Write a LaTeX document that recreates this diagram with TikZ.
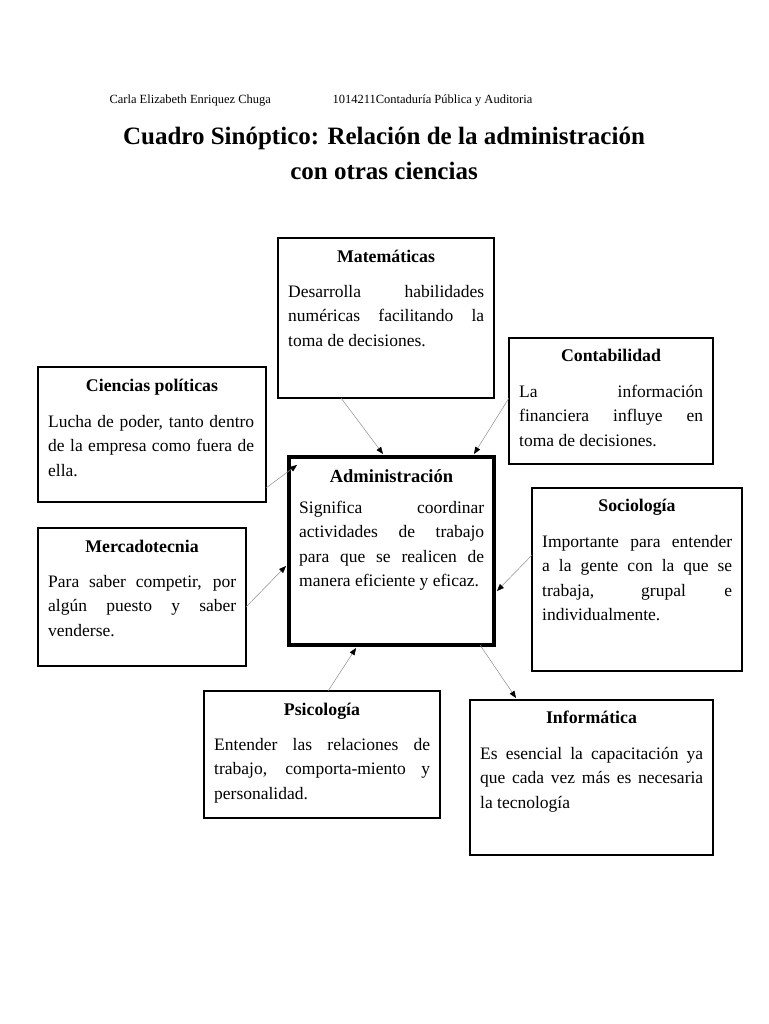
\documentclass[tikz,border=0pt]{standalone}
\usepackage{fontspec}
\setmainfont{Liberation Serif}
\usetikzlibrary{arrows.meta, calc}

\newcommand{\textocaja}{\fontsize{17.5}{24.4}\selectfont\tolerance=10000\hbadness=10000\hyphenpenalty=10000}

\tikzset{
  caja/.style={draw, line width=2.6pt, anchor=north west, outer sep=0pt, inner sep=0pt},
  titulo/.style={anchor=base, font=\fontsize{17.8}{20}\selectfont\bfseries},
  cuerpo/.style={anchor=north west, inner sep=0pt, align=justify, font=\textocaja, execute at begin node=\strut},
  flecha/.style={-{Triangle[length=7pt,width=5.5pt,color=black]}, draw=black!45, line width=0.5pt}
}

\begin{document}
\begin{tikzpicture}[line cap=round,line join=miter,x=1pt,y=-1pt]
\useasboundingbox (0,0) rectangle (768,1024);

\node[anchor=base west, font=\fontsize{12.5}{15}\selectfont] (autora) at (106,104) {Carla Elizabeth Enriquez Chuga};
\node[anchor=base west, font=\fontsize{12.5}{15}\selectfont] (carrera) at (329,104) {1014211Contaduría Pública y Auditoria};

\node[anchor=base, font=\fontsize{25}{30}\selectfont\bfseries] (tituloA) at (384,145) {Cuadro Sinóptico: Relación de la administración};
\node[anchor=base, font=\fontsize{25}{30}\selectfont\bfseries] (tituloB) at (384,180) {con otras ciencias};

\node[caja, minimum width=216pt, minimum height=160pt] (mat) at (278,238) {};
\node[titulo] (matT) at ($(mat.north)+(0,24)$) {Matemáticas};
\node[cuerpo, text width=196pt] (matC) at ($(mat.north west)+(10,42)$) {Desarrolla habilidades\linebreak numéricas facilitando la\linebreak toma de decisiones.};

\node[caja, minimum width=204pt, minimum height=126pt] (cont) at (509,338) {};
\node[titulo] (contT) at ($(cont.north)+(0,23)$) {Contabilidad};
\node[cuerpo, text width=184pt] (contC) at ($(cont.north west)+(10,42)$) {La información\linebreak financiera influye en\linebreak toma de decisiones.};

\node[caja, minimum width=228pt, minimum height=135pt] (cien) at (38,367) {};
\node[titulo] (cienT) at ($(cien.north)+(0,24)$) {Ciencias políticas};
\node[cuerpo, text width=206pt] (cienC) at ($(cien.north west)+(10,43)$) {Lucha de poder, tanto dentro\linebreak de la empresa como fuera de\linebreak ella.};

\node[caja, line width=4pt, minimum width=205pt, minimum height=188pt] (adm) at (289,457) {};
\node[titulo, font=\fontsize{18.5}{22}\selectfont\bfseries] (admT) at ($(adm.north)+(0,25)$) {Administración};
\node[cuerpo, text width=185pt] (admC) at ($(adm.north west)+(10,39)$) {Significa coordinar\linebreak actividades de trabajo\linebreak para que se realicen de\linebreak manera eficiente y eficaz.};

\node[caja, minimum width=210pt, minimum height=183pt] (soc) at (532,488) {};
\node[titulo] (socT) at ($(soc.north)+(0,23)$) {Sociología};
\node[cuerpo, text width=190pt] (socC) at ($(soc.north west)+(10,42)$) {Importante para entender\linebreak a la gente con la que se\linebreak trabaja, grupal e\linebreak individualmente.};

\node[caja, minimum width=208pt, minimum height=138pt] (merc) at (38,528) {};
\node[titulo] (mercT) at ($(merc.north)+(0,24)$) {Mercadotecnia};
\node[cuerpo, text width=188pt] (mercC) at ($(merc.north west)+(10,42)$) {Para saber competir, por\linebreak algún puesto y saber\linebreak venderse.};

\node[caja, minimum width=236pt, minimum height=127pt] (psi) at (204,691) {};
\node[titulo] (psiT) at ($(psi.north)+(0,24)$) {Psicología};
\node[cuerpo, text width=216pt] (psiC) at ($(psi.north west)+(10,42)$) {Entender las relaciones de\linebreak trabajo, comporta-miento y\linebreak personalidad.};

\node[caja, minimum width=243pt, minimum height=155pt] (inf) at (470,700) {};
\node[titulo] (infT) at ($(inf.north)+(0,23)$) {Informática};
\node[cuerpo, text width=223pt] (infC) at ($(inf.north west)+(10,42)$) {Es esencial la capacitación ya\linebreak que cada vez más es necesaria\linebreak la tecnología};

\draw[flecha] ($(mat.south west)+(63,0)$) -- ($(adm.north west)+(94,-3)$);
\draw[flecha] ($(cont.north west)+(0,60)$) -- ($(adm.north west)+(185,-3)$);
\draw[flecha] ($(cien.north east)+(0,121)$) -- ($(adm.north west)+(8,8)$);
\draw[flecha] ($(merc.north east)+(0,79)$) -- ($(adm.north west)+(-3,109)$);
\draw[flecha] ($(soc.north west)+(0,67)$) -- ($(adm.north east)+(3,134)$);
\draw[flecha] ($(psi.north west)+(124,0)$) -- ($(adm.south west)+(67,3)$);
\draw[flecha] ($(adm.south west)+(191,0)$) -- ($(inf.north west)+(46,-2)$);

\end{tikzpicture}
\end{document}
